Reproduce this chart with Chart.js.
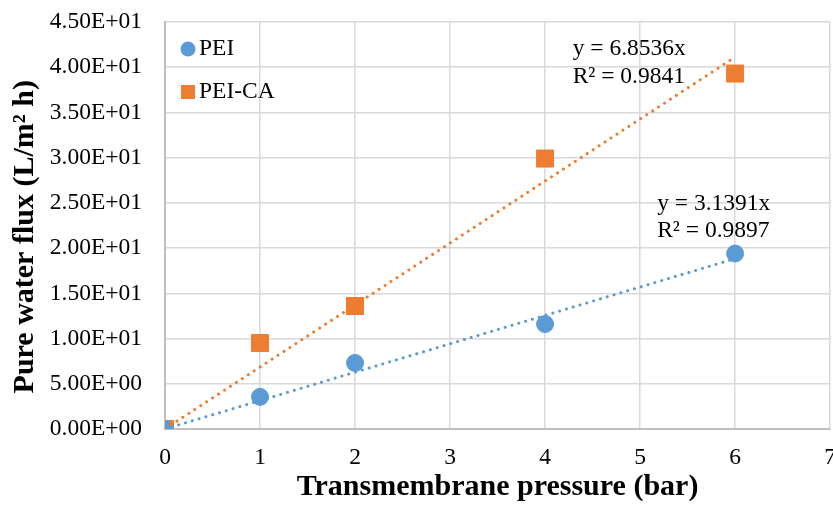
<!DOCTYPE html>
<html>
<head>
<meta charset="utf-8">
<script src="https://cdn.jsdelivr.net/npm/chart.js@4.4.0/dist/chart.umd.min.js"></script>
<style>
  html, body { margin: 0; padding: 0; background: #fff; overflow: hidden; }
  #clip { width: 833px; height: 512px; overflow: hidden; }
  /* wider than the window so the last x label is cut at the edge */
  #wrap { width: 851px; height: 512px; }
</style>
</head>
<body>
<div id="clip"><div id="wrap"><canvas id="chart"></canvas></div></div>
<script>
// pressures (bar) and fluxes
const pressure = [0, 1, 2, 4, 6];
const fluxPEI = [0, 3.55, 7.3, 11.6, 19.4];
const fluxPEICA = [0, 9.5, 13.6, 29.9, 39.3];
const seriesNames = ['PEI', 'PEI-CA'];
const slopes = [3.1391, 6.8536];
const rSquared = [0.9897, 0.9841];
const yTicks = [0, 5, 10, 15, 20, 25, 30, 35, 40, 45];
const xTicks = [0, 1, 2, 3, 4, 5, 6, 7];

const blue = '#5b9bd5';
const orange = '#ed7d31';
const serif = "'Liberation Serif', 'Times New Roman', serif";
const fs = 23.5;

function sci(v) {
    // Excel style 0.00E+00
    if (v === 0) return '0.00E+00';
    const exp = Math.floor(Math.log10(Math.abs(v)));
    const mant = v / Math.pow(10, exp);
    const sign = exp < 0 ? '-' : '+';
    return mant.toFixed(2) + 'E' + sign + String(Math.abs(exp)).padStart(2, '0');
}

function pts(xs, ys) {
    return xs.map((x, i) => ({ x: x, y: ys[i] }));
}

function trend(slope) {
    const last = pressure[pressure.length - 1];
    return [{ x: 0, y: 0 }, { x: last, y: slope * last }];
}

// legend drawn inside the plot, top left
const innerLegend = {
    id: 'innerLegend',
    afterDraw(chart) {
        const ctx = chart.ctx;
        const a = chart.chartArea;
        ctx.save();
        ctx.font = fs + 'px ' + serif;
        ctx.textBaseline = 'middle';
        // PEI
        ctx.beginPath();
        ctx.fillStyle = blue;
        ctx.arc(a.left + 23, a.top + 27, 7.5, 0, Math.PI * 2);
        ctx.fill();
        ctx.fillStyle = '#000';
        ctx.fillText(seriesNames[0], a.left + 34, a.top + 27);
        // PEI-CA
        ctx.fillStyle = orange;
        ctx.fillRect(a.left + 16, a.top + 63, 14, 14);
        ctx.fillStyle = '#000';
        ctx.fillText(seriesNames[1], a.left + 34, a.top + 70);
        ctx.restore();
    }
};

// trendline equations
const eqLabels = {
    id: 'eqLabels',
    afterDraw(chart) {
        const ctx = chart.ctx;
        const xs = chart.scales.x, ys = chart.scales.y;
        ctx.save();
        ctx.font = fs + 'px ' + serif;
        ctx.fillStyle = '#000';
        ctx.textBaseline = 'middle';
        // PEI-CA
        let px = xs.getPixelForValue(4.29), py = ys.getPixelForValue(42.0);
        ctx.fillText('y = ' + slopes[1] + 'x', px, py);
        ctx.fillText('R\u00b2 = ' + rSquared[1], px, py + 28);
        // PEI
        px = xs.getPixelForValue(5.18); py = ys.getPixelForValue(24.9);
        ctx.fillText('y = ' + slopes[0] + 'x', px, py);
        ctx.fillText('R\u00b2 = ' + rSquared[0], px, py + 27);
        ctx.restore();
    }
};

new Chart(document.getElementById('chart'), {
    type: 'scatter',
    data: {
        datasets: [
            {
                label: seriesNames[0] + ' trend',
                data: trend(slopes[0]),
                showLine: true,
                borderColor: blue,
                borderWidth: 3,
                borderDash: [0.1, 7],
                borderCapStyle: 'round',
                pointRadius: 0,
                order: 1
            },
            {
                label: seriesNames[1] + ' trend',
                data: trend(slopes[1]),
                showLine: true,
                borderColor: orange,
                borderWidth: 3,
                borderDash: [0.1, 7],
                borderCapStyle: 'round',
                pointRadius: 0,
                order: 1
            },
            {
                label: seriesNames[0],
                data: pts(pressure, fluxPEI),
                backgroundColor: blue,
                borderColor: blue,
                pointStyle: 'circle',
                pointRadius: 8.5,
                order: 2
            },
            {
                label: seriesNames[1],
                data: pts(pressure, fluxPEICA),
                backgroundColor: orange,
                borderColor: orange,
                pointStyle: 'rect',
                pointRadius: 12,
                order: 2
            }
        ]
    },
    options: {
        responsive: true,
        maintainAspectRatio: false,
        animation: false,
        layout: { padding: { top: 22, right: 0, left: 0, bottom: 0 } },
        plugins: {
            legend: { display: false },
            tooltip: { enabled: false }
        },
        scales: {
            x: {
                type: 'linear',
                min: 0,
                max: 7,
                afterBuildTicks: s => { s.ticks = xTicks.map(v => ({ value: v })); },
                afterFit: s => { s.height = 83; },
                grid: { color: '#d9d9d9', lineWidth: 1.5, drawTicks: false },
                border: { color: '#bfbfbf', width: 2 },
                ticks: {
                    color: '#000',
                    font: { family: serif, size: fs },
                    padding: 15,
                    maxRotation: 0
                },
                title: {
                    display: true,
                    text: 'Transmembrane pressure (bar)',
                    color: '#000',
                    font: { family: serif, size: 30, weight: 'bold' },
                    padding: { top: 0, bottom: 7 }
                }
            },
            y: {
                type: 'linear',
                min: 0,
                max: 45,
                afterBuildTicks: s => { s.ticks = yTicks.map(v => ({ value: v })); },
                afterFit: s => { s.width = 165; s.paddingTop = 0; s.paddingBottom = 0; },
                grid: { color: '#d9d9d9', lineWidth: 1.5, drawTicks: false },
                border: { color: '#bfbfbf', width: 2 },
                ticks: {
                    color: '#000',
                    font: { family: serif, size: fs },
                    padding: 23,
                    callback: v => sci(v)
                },
                title: {
                    display: true,
                    text: 'Pure water flux (L/m\u00b2 h)   ',
                    color: '#000',
                    font: { family: serif, size: 30, weight: 'bold' },
                    padding: { top: 7, bottom: 0 }
                }
            }
        }
    },
    plugins: [innerLegend, eqLabels]
});
</script>
</body>
</html>
